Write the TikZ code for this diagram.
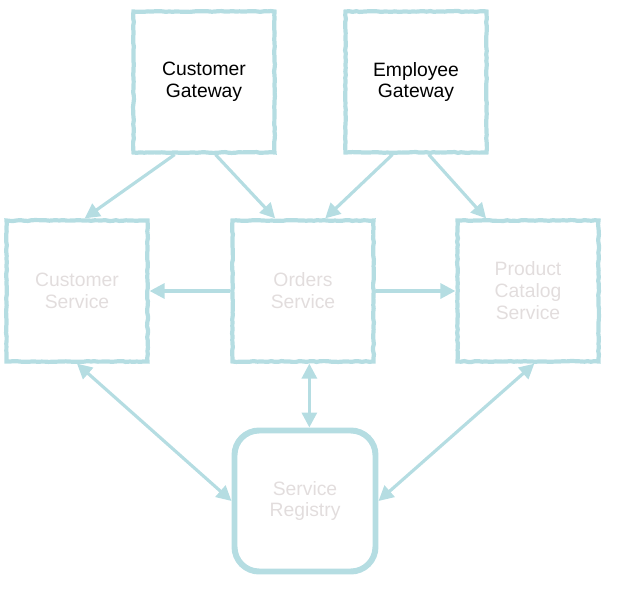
\documentclass[tikz,border=0pt]{standalone}
\usepackage{fontspec}
\setmainfont{Liberation Sans}
\usetikzlibrary{arrows.meta,decorations.pathmorphing}
\definecolor{boxblue}{HTML}{B5DDE2}
\definecolor{fadetext}{HTML}{E2DDDD}
\tikzset{
  rough/.style={decorate,decoration={random steps,segment length=2pt,amplitude=0.25pt}},
  basebox/.style={shape=rectangle,draw=boxblue,line width=2.4pt,minimum size=2.82cm,
    align=center,font=\fontsize{11}{12.5}\selectfont,text=fadetext},
  svcbox/.style={basebox,rough},
  gatebox/.style={svcbox,text=black},
  regbox/.style={basebox,rounded corners=14pt,line width=3.4pt},
  link/.style={color=boxblue,line width=1.8pt}
}
\begin{document}
\begin{tikzpicture}[>={Triangle[length=8.5pt,width=8.5pt]}]
    \useasboundingbox (0,0) rectangle (12.36,-11.92);
    \node[gatebox] (CG) at (4.08,-1.64) {Customer\\Gateway};
    \node[gatebox] (EG) at (8.32,-1.64) {Employee\\Gateway};
    \node[svcbox] (CS) at (1.54,-5.82) {Customer\\Service};
    \node[svcbox] (OS) at (6.06,-5.82) {Orders\\Service};
    \node[svcbox] (PCS) at (10.56,-5.82) {Product\\Catalog\\Service};
    \node[regbox] (SR) at (6.10,-10.02) {Service\\Registry};
    \path(CG.-112) edge[->,link] (CS.84);
    \path(CG.-81) edge[->,link] (OS.111);
    \path(EG.-108) edge[->,link] (OS.73);
    \path(EG.-80) edge[->,link] (PCS.120);
    \path(OS.west) edge[->,link] (CS.east);
    \path(OS.east) edge[->,link] (PCS.west);
    \path(OS.-85) edge[<->,link] (OS.-85 |- SR.north);
    \path(CS.south) edge[<->,link] (SR.west);
    \path(PCS.-85) edge[<->,link] (SR.east);
\end{tikzpicture}
\end{document}
